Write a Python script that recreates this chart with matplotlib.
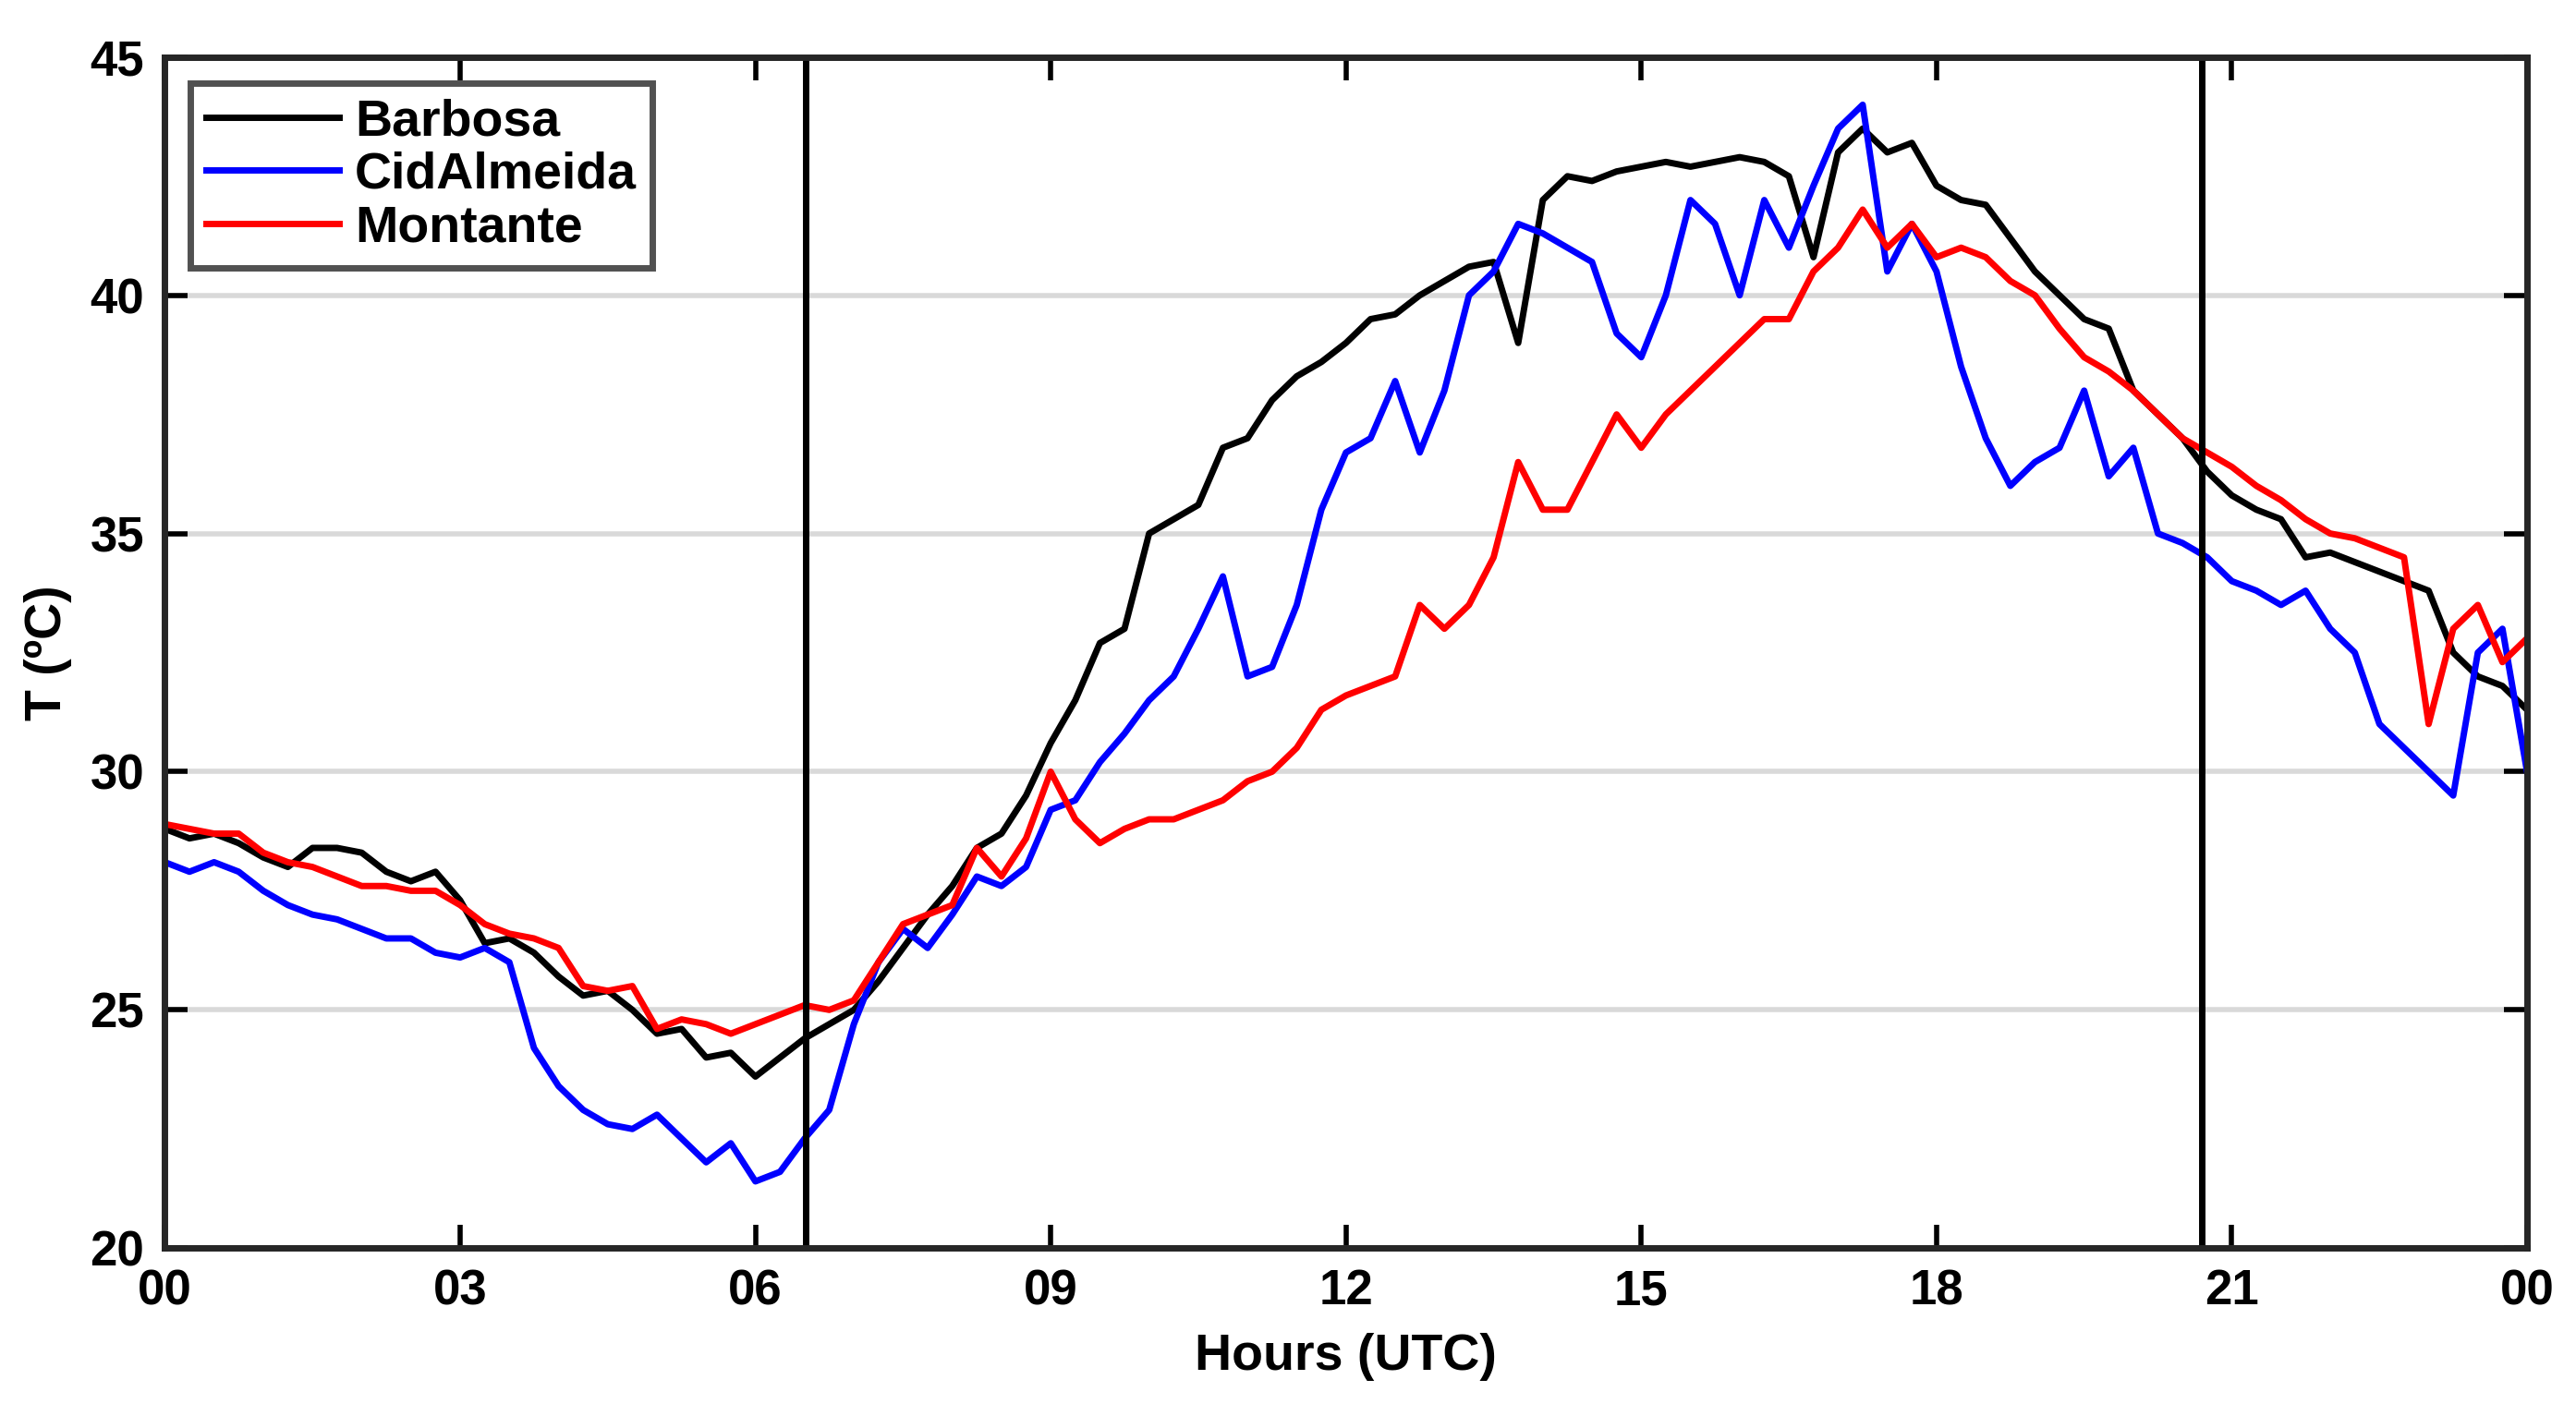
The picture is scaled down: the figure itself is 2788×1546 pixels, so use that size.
import numpy as np
import matplotlib
matplotlib.use("Agg")
import matplotlib.pyplot as plt

hours = [i * 0.25 for i in range(97)]
barbosa = [28.8,28.6,28.7,28.5,28.2,28.0,28.4,28.4,28.3,27.9,27.7,27.9,27.3,26.4,26.5,26.2,25.7,25.3,25.4,25.0,24.5,24.6,24.0,24.1,23.6,24.0,24.4,24.7,25.0,25.6,26.3,27.0,27.6,28.4,28.7,29.5,30.6,31.5,32.7,33.0,35.0,35.3,35.6,36.8,37.0,37.8,38.3,38.6,39.0,39.5,39.6,40.0,40.3,40.6,40.7,39.0,42.0,42.5,42.4,42.6,42.7,42.8,42.7,42.8,42.9,42.8,42.5,40.8,43.0,43.5,43.0,43.2,42.3,42.0,41.9,41.2,40.5,40.0,39.5,39.3,38.0,37.5,37.0,36.3,35.8,35.5,35.3,34.5,34.6,34.4,34.2,34.0,33.8,32.5,32.0,31.8,31.3]
cidalmeida = [28.1,27.9,28.1,27.9,27.5,27.2,27.0,26.9,26.7,26.5,26.5,26.2,26.1,26.3,26.0,24.2,23.4,22.9,22.6,22.5,22.8,22.3,21.8,22.2,21.4,21.6,22.3,22.9,24.7,26.0,26.7,26.3,27.0,27.8,27.6,28.0,29.2,29.4,30.2,30.8,31.5,32.0,33.0,34.1,32.0,32.2,33.5,35.5,36.7,37.0,38.2,36.7,38.0,40.0,40.5,41.5,41.3,41.0,40.7,39.2,38.7,40.0,42.0,41.5,40.0,42.0,41.0,42.3,43.5,44.0,40.5,41.5,40.5,38.5,37.0,36.0,36.5,36.8,38.0,36.2,36.8,35.0,34.8,34.5,34.0,33.8,33.5,33.8,33.0,32.5,31.0,30.5,30.0,29.5,32.5,33.0,30.0]
montante = [28.9,28.8,28.7,28.7,28.3,28.1,28.0,27.8,27.6,27.6,27.5,27.5,27.2,26.8,26.6,26.5,26.3,25.5,25.4,25.5,24.6,24.8,24.7,24.5,24.7,24.9,25.1,25.0,25.2,26.0,26.8,27.0,27.2,28.4,27.8,28.6,30.0,29.0,28.5,28.8,29.0,29.0,29.2,29.4,29.8,30.0,30.5,31.3,31.6,31.8,32.0,33.5,33.0,33.5,34.5,36.5,35.5,35.5,36.5,37.5,36.8,37.5,38.0,38.5,39.0,39.5,39.5,40.5,41.0,41.8,41.0,41.5,40.8,41.0,40.8,40.3,40.0,39.3,38.7,38.4,38.0,37.5,37.0,36.7,36.4,36.0,35.7,35.3,35.0,34.9,34.7,34.5,31.0,33.0,33.5,32.3,32.8]
vlines = [6.51, 20.7]
xticks = [0, 3, 6, 9, 12, 15, 18, 21, 24]
xticklabels = ["00", "03", "06", "09", "12", "15", "18", "21", "00"]

plt.rcParams['font.family'] = ['Liberation Sans', 'DejaVu Sans']
plt.rcParams['font.weight'] = 'bold'
fig = plt.figure(figsize=(27.88, 15.46), dpi=100)
ax = fig.add_axes([0.064, 0.126, 0.917, 0.834])
ax.plot(hours, barbosa, color='black', lw=5, label='Barbosa')
ax.plot(hours, cidalmeida, color='blue', lw=5, label='CidAlmeida')
ax.plot(hours, montante, color='red', lw=5, label='Montante')
for v in vlines:
    ax.axvline(v, color='black', lw=5)
ax.set_xlim(0, 24)
ax.set_ylim(20, 45)
ax.set_xticks(xticks)
ax.set_xticklabels(xticklabels)
ax.set_yticks([20, 25, 30, 35, 40, 45])
ax.yaxis.grid(True, color='#d9d9d9', lw=4)
ax.set_axisbelow(True)
ax.tick_params(direction='in', length=18, width=4, labelsize=38, top=True, right=True, pad=16)
for s in ax.spines.values():
    s.set_linewidth(5)
    s.set_color('#262626')
ax.set_xlabel('Hours (UTC)', fontsize=40, fontweight='bold', labelpad=14)
ax.set_ylabel('T (ºC)', fontsize=40, fontweight='bold', labelpad=14)
leg = ax.legend(loc='upper left', fontsize=40, frameon=True, fancybox=False,
                edgecolor='#262626', handlelength=2.6, borderaxespad=0.5,
                borderpad=0.3, labelspacing=0.1, handletextpad=0.3)
leg.get_frame().set_linewidth(5)
fig.savefig('out.png', dpi=100)
